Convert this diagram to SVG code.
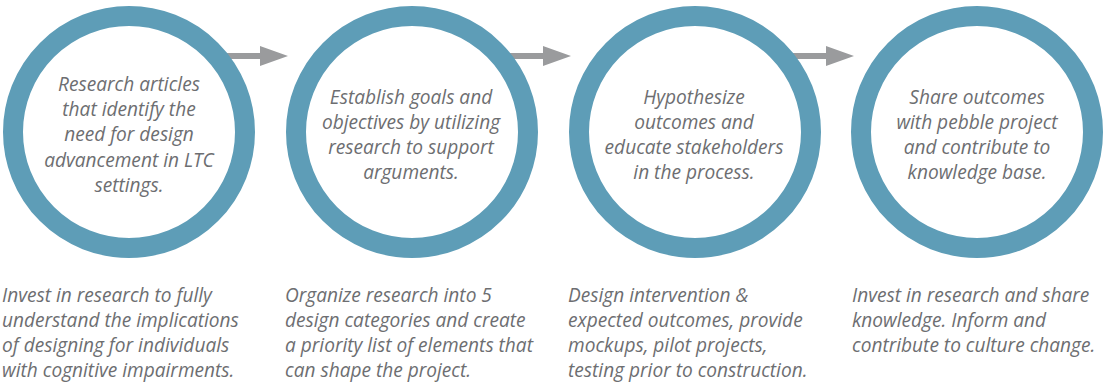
<svg xmlns="http://www.w3.org/2000/svg" width="1104" height="384" viewBox="0 0 1104 384">
<style>
.ring{fill:#ffffff;stroke:#5e9db7;stroke-width:20}
.t{font-family:"Open Sans","Liberation Sans",sans-serif;font-style:italic;font-size:19.1px;fill:#6d6e71}
.c{text-anchor:middle}
.arr{fill:#9a9b9d}
</style>
<rect width="1104" height="384" fill="#ffffff"/>
<g id="connectors">
<path class="arr" d="M200,53 H260 V46 L288,56 L260,66 V59 H200 Z"/>
<path class="arr" d="M483,53 H543 V46 L571,56 L543,66 V59 H483 Z"/>
<path class="arr" d="M766,53 H826 V46 L854,56 L826,66 V59 H766 Z"/>
</g>
<g id="step1">
<circle class="ring" cx="129" cy="132" r="116"/>
<text class="t c" x="129" y="91">Research articles</text>
<text class="t c" x="129" y="116">that identify the</text>
<text class="t c" x="129" y="141">need for design</text>
<text class="t c" x="129" y="167">advancement in LTC</text>
<text class="t c" x="129" y="192">settings.</text>
<text class="t" x="2" y="302">Invest in research to fully</text>
<text class="t" x="2" y="327">understand the implications</text>
<text class="t" x="2" y="352">of designing for individuals</text>
<text class="t" x="2" y="377">with cognitive impairments.</text>
</g>
<g id="step2">
<circle class="ring" cx="412" cy="132" r="116"/>
<text class="t c" x="411" y="104">Establish goals and</text>
<text class="t c" x="411" y="129">objectives by utilizing</text>
<text class="t c" x="411" y="154">research to support</text>
<text class="t c" x="411" y="179">arguments.</text>
<text class="t" x="285" y="302">Organize research into 5</text>
<text class="t" x="285" y="327">design categories and create</text>
<text class="t" x="285" y="352">a priority list of elements that</text>
<text class="t" x="285" y="377">can shape the project.</text>
</g>
<g id="step3">
<circle class="ring" cx="695" cy="132" r="116"/>
<text class="t c" x="694" y="104">Hypothesize</text>
<text class="t c" x="694" y="129">outcomes and</text>
<text class="t c" x="694" y="154">educate stakeholders</text>
<text class="t c" x="694" y="179">in the process.</text>
<text class="t" x="568" y="302">Design intervention &amp;</text>
<text class="t" x="568" y="327">expected outcomes, provide</text>
<text class="t" x="568" y="352">mockups, pilot projects,</text>
<text class="t" x="568" y="377">testing prior to construction.</text>
</g>
<g id="step4">
<circle class="ring" cx="977" cy="132" r="116"/>
<text class="t c" x="977" y="104">Share outcomes</text>
<text class="t c" x="977" y="129">with pebble project</text>
<text class="t c" x="977" y="154">and contribute to</text>
<text class="t c" x="977" y="179">knowledge base.</text>
<text class="t" x="852" y="302">Invest in research and share</text>
<text class="t" x="852" y="327">knowledge. Inform and</text>
<text class="t" x="852" y="352">contribute to culture change.</text>
</g>
</svg>
